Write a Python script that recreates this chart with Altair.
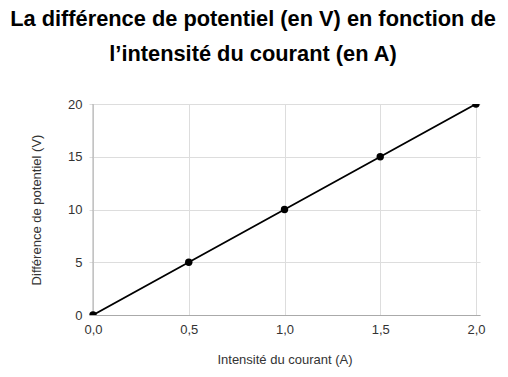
import altair as alt
import pandas as pd

intensite = [0.0, 0.5, 1.0, 1.5, 2.0]
tension = [0, 5, 10, 15, 20]
x_ticks = [0.0, 0.5, 1.0, 1.5, 2.0]
y_ticks = [0, 5, 10, 15, 20]

df = pd.DataFrame({"I": intensite, "U": tension})
axis_df = pd.DataFrame({"I": [0.0], "U0": [0], "U1": [20]})

FONT = "Liberation Sans"

xscale = alt.Scale(domain=[-0.021, 2.021], nice=False, zero=False)
yscale = alt.Scale(domain=[0, 20], nice=False)

x = alt.X(
    "I:Q",
    scale=xscale,
    axis=alt.Axis(
        title="Intensité du courant (A)",
        values=x_ticks,
        labelExpr="replace(format(datum.value, '.1f'), '.', ',')",
        labelFlush=False,
        grid=True,
        gridColor="#dddddd",
        domainColor="#aaaaaa",
        ticks=False,
        labelPadding=8,
        labelFontSize=13,
        labelColor="#333333",
        labelFont=FONT,
        titleFont=FONT,
        titleFontSize=13,
        titleFontWeight="normal",
        titleColor="#333333",
        titlePadding=17,
    ),
)
y = alt.Y(
    "U:Q",
    scale=yscale,
    axis=alt.Axis(
        title="Différence de potentiel (V)",
        values=y_ticks,
        grid=True,
        gridColor="#dddddd",
        domain=False,
        ticks=False,
        labelPadding=7,
        labelFontSize=13,
        labelColor="#333333",
        labelFont=FONT,
        titleFont=FONT,
        titleFontSize=13,
        titleFontWeight="normal",
        titleColor="#333333",
        titlePadding=24,
    ),
)

yaxis_line = alt.Chart(axis_df).mark_rule(color="#aaaaaa", strokeWidth=1).encode(
    x=alt.X("I:Q", scale=xscale),
    y=alt.Y("U0:Q", scale=yscale),
    y2="U1:Q",
)
line = alt.Chart(df).mark_line(color="black", strokeWidth=1.8, clip=True).encode(x=x, y=y)
pts = alt.Chart(df).mark_point(filled=True, color="black", size=55, opacity=1, clip=True).encode(x=x, y=y)

chart = (
    alt.layer(line, yaxis_line, pts)
    .properties(
        width=391,
        height=211,
        padding={"left": 89, "top": 104, "right": 28, "bottom": 62},
        autosize=alt.AutoSizeParams(type="none"),
        title=alt.TitleParams(
            text=["La différence de potentiel (en V) en fonction de", "l’intensité du courant (en A)"],
            font=FONT,
            fontSize=21.8,
            fontWeight="bold",
            color="black",
            lineHeight=35,
            anchor="middle",
            frame="group",
            dx=-31.5,
            offset=32,
        ),
    )
    .configure_view(stroke=None)
)

chart.save("out.html", embed_options={"renderer": "svg", "actions": False})
